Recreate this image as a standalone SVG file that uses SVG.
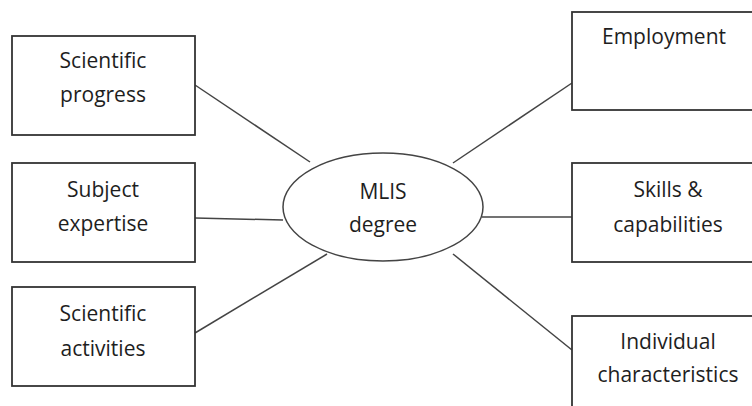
<svg xmlns="http://www.w3.org/2000/svg" width="752" height="406" viewBox="0 0 752 406">
<style>
.box{fill:#fff;stroke:#333;stroke-width:1.8}
.ell{fill:#fff;stroke:#444;stroke-width:1.5}
.ln{stroke:#444;stroke-width:1.5;fill:none}
text{font-family:"Open Sans","Liberation Sans",sans-serif;font-size:21px;fill:#1e1e1e;text-anchor:middle}
</style>
<rect width="752" height="406" fill="#fff"/>
<g id="connectors">
<line class="ln" x1="195" y1="85" x2="310" y2="162"/>
<line class="ln" x1="195" y1="218" x2="283" y2="220"/>
<line class="ln" x1="195" y1="333" x2="327" y2="254"/>
<line class="ln" x1="572" y1="83" x2="453" y2="163"/>
<line class="ln" x1="482" y1="217" x2="572" y2="217"/>
<line class="ln" x1="453" y1="254" x2="572" y2="350"/>
</g>
<g id="mlis">
<ellipse class="ell" cx="383" cy="207" rx="100" ry="54"/>
<text x="383" y="199">MLIS</text>
<text x="383" y="232">degree</text>
</g>
<g id="sci-progress">
<rect class="box" x="12" y="36" width="183" height="99"/>
<text x="103" y="68">Scientific</text>
<text x="103" y="102">progress</text>
</g>
<g id="subject-expertise">
<rect class="box" x="12" y="163" width="183" height="99"/>
<text x="103" y="197">Subject</text>
<text x="103" y="231">expertise</text>
</g>
<g id="sci-activities">
<rect class="box" x="12" y="287" width="183" height="99"/>
<text x="103" y="321">Scientific</text>
<text x="103" y="356">activities</text>
</g>
<g id="employment">
<rect class="box" x="572" y="12" width="195" height="98"/>
<text x="664" y="44">Employment</text>
</g>
<g id="skills">
<rect class="box" x="572" y="163" width="195" height="99"/>
<text x="668" y="197">Skills &amp;</text>
<text x="668" y="232">capabilities</text>
</g>
<g id="individual">
<rect class="box" x="572" y="316" width="195" height="99"/>
<text x="668" y="349">Individual</text>
<text x="668" y="382">characteristics</text>
</g>
</svg>
